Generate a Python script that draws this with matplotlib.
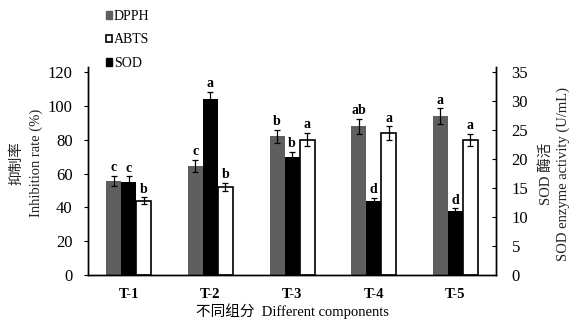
import numpy as np
import matplotlib.pyplot as plt
from matplotlib.patches import Patch

plt.rcParams['font.family'] = ['Liberation Serif', 'Noto Sans CJK SC']

# data
groups = ["T-1", "T-2", "T-3", "T-4", "T-5"]
dpph = [55.5, 64.7, 82, 88, 94]
dpph_err = [3, 3.5, 4, 4.5, 4.5]
dpph_sig = ["c", "c", "b", "ab", "a"]
abts = [44, 52, 80, 84, 80]
abts_err = [2, 2.5, 4, 4, 3.5]
abts_sig = ["b", "b", "a", "a", "a"]
sod = [16.1, 30.3, 20.3, 12.8, 11.1]   # U/mL, right axis
sod_err = [0.9, 1.3, 1.0, 0.5, 0.4]
sod_sig = ["c", "a", "b", "d", "d"]

fig = plt.figure(figsize=(5.71, 3.2), dpi=100)
ax = fig.add_axes([0.154, 0.1406, 0.715, 0.65])
ax2 = ax.twinx()

x = np.arange(len(groups))
w = 0.184
ekw = dict(elinewidth=0.9, capthick=0.9)

ax.bar(x - w, dpph, w, color="#5f5f5f", yerr=dpph_err, capsize=2.5, error_kw=ekw, zorder=2)
ax.bar(x + w, abts, w, color="white", edgecolor="black", linewidth=1.2,
       yerr=abts_err, capsize=2.5, error_kw=ekw, zorder=2)
ax2.bar(x, sod, w, color="black", yerr=sod_err, capsize=2.5, error_kw=ekw, zorder=2)

for i in range(len(groups)):
    ax.text(x[i] - w, dpph[i] + dpph_err[i] + 1, dpph_sig[i], ha="center", va="bottom",
            fontsize=10, fontweight="bold")
    ax.text(x[i] + w, abts[i] + abts_err[i] + 1, abts_sig[i], ha="center", va="bottom",
            fontsize=10, fontweight="bold")
    ax2.text(x[i], sod[i] + sod_err[i] + 0.3, sod_sig[i], ha="center", va="bottom",
             fontsize=10, fontweight="bold")

ax.set_xlim(-0.5, 4.5)
ax.set_ylim(0, 123)
ax2.set_ylim(0, 35 * 123 / 120)
ax.set_yticks(range(0, 121, 20))
ax2.set_yticks(range(0, 36, 5))
ax.set_xticks(x)
ax.set_xticklabels(groups, fontweight="bold")
ax.tick_params(axis="x", length=0, labelsize=10.5, pad=9)
ax.tick_params(axis="y", direction="out", length=3, labelsize=12, pad=8)
ax2.tick_params(axis="y", direction="in", length=3, labelsize=12, pad=11)

for a in (ax, ax2):
    a.spines["top"].set_visible(False)
    for s in ("left", "right", "bottom"):
        a.spines[s].set_linewidth(1.0)

# axis titles, two lines each (Chinese + English)
fig.text(0.047, 0.49, "抑制率\nInhibition rate (%)", rotation=90, ha="center", va="center",
         multialignment="center", fontsize=10.5, linespacing=1.6, color="#222222")
fig.text(0.971, 0.457, "SOD 酶活\nSOD enzyme activity (U/mL)", rotation=90, ha="center",
         va="center", multialignment="center", fontsize=10.5, linespacing=1.4, color="#222222")
ax.set_xlabel("不同组分  Different components", fontsize=10.5, labelpad=2)

handles = [Patch(facecolor="#5f5f5f", edgecolor="#5f5f5f"),
           Patch(facecolor="white", edgecolor="black", linewidth=1.2),
           Patch(facecolor="black", edgecolor="black")]
fig.legend(handles, ["DPPH", "ABTS", "SOD"], loc="upper left", bbox_to_anchor=(0.163, 1.008),
           frameon=False, handlelength=0.45, handleheight=0.45, handletextpad=0.15,
           labelspacing=0.75, fontsize=10)

fig.savefig("out.png", dpi=100)
